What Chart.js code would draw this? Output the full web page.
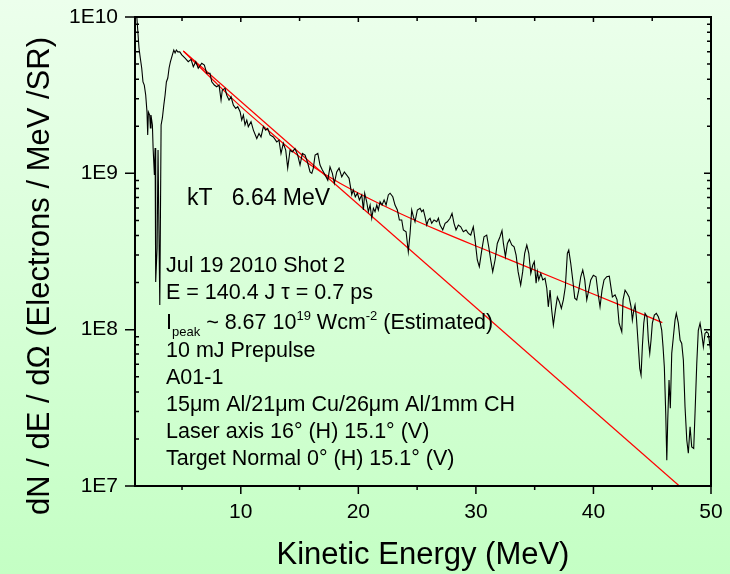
<!DOCTYPE html>
<html>
<head>
<meta charset="utf-8">
<script src="https://cdn.jsdelivr.net/npm/chart.js@4.4.1/dist/chart.umd.min.js"></script>
<style>
  body { margin: 0; background: #d8ffd8; }
  #chart { display: block; }
</style>
</head>
<body>
<canvas id="chart" width="730" height="574"></canvas>
<script>
const FONT = '"Liberation Sans", Arial, sans-serif';

// spectrum (MeV, electrons / MeV / SR)
const energy = [
  1.05, 1.34, 1.45, 1.57, 1.68, 1.79, 1.91, 2.02, 2.08, 2.14, 2.25, 2.31, 2.36, 2.48, 2.54, 2.65, 2.71, 2.76, 2.88, 2.96,
  3.11, 3.22, 3.33, 3.45, 3.56, 3.67, 3.79, 3.90, 4.01, 4.18, 4.30, 4.41, 4.52, 4.64, 4.81, 4.98,
  5.26, 5.53, 5.77, 5.96, 6.17, 6.38, 6.68, 6.90, 7.10, 7.38, 7.53, 7.75, 7.95, 8.15, 8.32, 8.43, 8.66, 8.80, 9.00, 9.17,
  9.37, 9.57, 9.74, 9.94, 10.08, 10.22, 10.36, 10.51, 10.64, 10.87, 11.07, 11.36, 11.55, 11.72, 11.92, 12.12, 12.29, 12.49,
  12.77, 13.06, 13.25, 13.42, 13.62, 13.82, 13.99, 14.19, 14.38, 14.61, 14.84, 15.04, 15.24, 15.47, 15.70, 15.89, 16.04,
  16.17, 16.32, 16.55, 16.74, 16.94, 17.17, 17.40, 17.59, 17.79, 17.96, 18.16, 18.36, 18.59, 18.81, 19.01, 19.21, 19.44,
  19.57, 19.74, 19.92, 20.09, 20.29, 20.43, 20.54, 20.71, 20.85, 21.00, 21.14, 21.28, 21.42, 21.57, 21.70, 21.85, 22.02,
  22.19, 22.36, 22.55, 22.70, 22.93, 23.12, 23.32, 23.49, 23.69, 23.83, 24.06, 24.25, 24.40, 24.54, 24.68, 24.82, 25.02,
  25.25, 25.39, 25.53, 25.67, 25.82, 25.95, 26.10, 26.24, 26.44, 26.67, 26.81, 26.95, 27.18, 27.38, 27.57, 27.80, 27.97,
  28.14, 28.31, 28.51, 28.71, 28.93, 29.16, 29.36, 29.56, 29.78, 29.93, 30.12, 30.29, 30.50, 30.69, 30.92, 31.09, 31.26,
  31.43, 31.63, 31.82, 32.05, 32.22, 32.34, 32.51, 32.68, 32.85, 33.05, 33.25, 33.42, 33.59, 33.81, 33.98, 34.15, 34.33,
  34.50, 34.67, 34.84, 34.97, 35.12, 35.23, 35.35, 35.52, 35.69, 35.88, 36.03, 36.16, 36.31, 36.45, 36.59, 36.76, 36.93,
  37.10, 37.27, 37.44, 37.61, 37.78, 37.90, 38.07, 38.24, 38.41, 38.58, 38.75, 38.92, 39.09, 39.26, 39.43, 39.60, 39.77,
  39.99, 40.22, 40.39, 40.56, 40.73, 40.90, 41.13, 41.35, 41.61, 41.84, 42.01, 42.18, 42.41, 42.52, 42.69, 42.86, 43.03,
  43.20, 43.31, 43.43, 43.54, 43.65, 43.82, 43.94, 44.05, 44.16, 44.28, 44.39, 44.56, 44.67, 44.79, 44.90, 45.01, 45.18,
  45.35, 45.52, 45.69, 45.81, 45.92, 46.03, 46.15, 46.24, 46.32, 46.43, 46.54, 46.66, 46.80, 46.94, 47.05, 47.22, 47.37,
  47.51, 47.65, 47.79, 47.94, 48.07, 48.22, 48.36, 48.53, 48.64, 48.79, 48.92, 49.07, 49.21, 49.35, 49.49, 49.63, 49.77,
  49.92, 50.0
];
const counts = [
  1.3e10, 6.33e9, 5.47e9, 4.72e9, 3.84e9, 3.67e9, 3.17e9, 2.47e9, 1.76e9, 2.47e9, 2.36e9, 1.95e9, 2.36e9, 2.04e9, 1.45e9, 9.75e8, 1.45e9, 2.02e8, 3.33e8, 1.41e9,
  1.44e8, 2.04e9, 2.26e9, 2.73e9, 3.17e9, 3.84e9, 4.07e9, 4.72e9, 5.16e9, 5.72e9, 6.15e9, 5.89e9, 6.15e9, 5.98e9, 5.98e9, 5.72e9,
  5.45e9, 5.18e9, 5.36e9, 4.81e9, 5.18e9, 4.70e9, 5.06e9, 4.93e9, 4.37e9, 4.37e9, 3.85e9, 3.67e9, 3.58e9, 3.67e9, 2.94e9, 3.41e9, 3.50e9, 3.17e9, 2.94e9, 3.09e9,
  2.73e9, 2.60e9, 2.67e9, 2.48e9, 2.19e9, 2.36e9, 2.04e9, 2.19e9, 1.99e9, 2.14e9, 1.89e9, 1.67e9, 1.80e9, 1.71e9, 1.99e9, 1.89e9, 1.94e9, 1.76e9,
  1.71e9, 1.59e9, 1.63e9, 1.34e9, 1.56e9, 1.41e9, 1.08e9, 1.41e9, 1.37e9, 1.44e9, 1.31e9, 1.13e9, 1.34e9, 1.31e9, 1.16e9, 1.02e9, 1.00e9,
  1.08e9, 1.31e9, 1.34e9, 1.13e9, 1.05e9, 9.75e8, 9.04e8, 1.10e9, 1.00e9, 8.64e8, 1.02e9, 1.08e9, 9.5e8, 1.02e9, 9.75e8, 9.29e8, 7.3e8,
  7.83e8, 7.08e8, 7.46e8, 6.76e8, 7.27e8, 5.83e8, 7.46e8, 6.58e8, 5.68e8, 6.27e8, 5.16e8, 5.98e8, 5.68e8, 6.27e8, 5.83e8, 6.58e8, 6.27e8,
  6.76e8, 6.27e8, 7.27e8, 7.46e8, 7.08e8, 6.27e8, 5.83e8, 5.03e8, 5.03e8, 4.34e8, 4.23e8, 3.15e8, 4.13e8, 5.83e8, 5.28e8, 4.90e8, 5.83e8,
  5.98e8, 5.68e8, 5.83e8, 5.28e8, 4.67e8, 5.03e8, 5.16e8, 4.79e8, 5.03e8, 4.90e8, 5.16e8, 4.67e8, 4.34e8, 4.79e8, 4.90e8, 5.16e8, 5.55e8,
  4.79e8, 4.34e8, 4.67e8, 4.55e8, 4.23e8, 4.34e8, 4.13e8, 4.03e8, 4.55e8, 3.74e8, 2.79e8, 2.53e8, 3.23e8, 3.93e8, 4.03e8, 3.39e8, 2.79e8,
  2.35e8, 2.79e8, 3.56e8, 3.93e8, 4.30e8, 3.56e8, 2.93e8, 3.56e8, 3.78e8, 3.48e8, 3.39e8, 3.00e8, 2.35e8, 1.93e8, 2.35e8, 3.08e8, 3.48e8,
  3.08e8, 2.29e8, 2.59e8, 2.72e8, 1.98e8, 2.35e8, 2.08e8, 2.29e8, 2.08e8, 2.13e8, 1.84e8, 1.40e8, 1.79e8, 1.33e8, 1.07e8, 1.33e8, 1.62e8,
  1.51e8, 1.37e8, 1.55e8, 1.88e8, 3.08e8, 3.23e8, 2.65e8, 2.08e8, 1.59e8, 1.55e8, 1.79e8, 2.18e8, 2.41e8, 2.08e8, 1.55e8, 1.79e8, 2.08e8,
  2.23e8, 2.18e8, 1.71e8, 1.40e8, 1.79e8, 2.08e8, 2.18e8, 2.20e8, 1.62e8, 1.67e8, 1.55e8, 1.10e8, 9.69e7, 1.55e8, 1.79e8, 1.71e8, 1.62e8,
  1.40e8, 1.15e8, 1.33e8, 1.44e8, 1.21e8, 7.78e7, 5.66e7, 5.12e7, 7.78e7, 1.10e8, 1.27e8, 1.21e8, 8.59e7, 7.05e7, 8.59e7, 1.10e8, 1.24e8,
  1.27e8, 1.21e8, 1.10e8, 9.9e7, 7.78e7, 5.79e7, 2.91e7, 1.46e7, 2.64e7, 4.76e7, 3.14e7, 7.05e7, 9.0e7, 1.15e8, 1.27e8, 1.10e8, 8.59e7,
  8.17e7, 6.38e7, 3.21e7, 1.97e7, 1.62e7, 2.39e7, 1.78e7, 1.74e7, 2.91e7, 6.1e7, 9.9e7, 1.10e8, 9.46e7, 7.78e7, 9.46e7, 9.69e7, 9.46e7,
  7.78e7, 7.05e7
];

// single temperature fit (kT 6.64 MeV)
const steepFitE = [5.11, 47.31];
const steepFitN = [6.06e9, 1e7];

// two temperature fit
const twoTempFitE = [5.11, 7.38, 9.94, 12.49, 14.59, 16.32, 18.44, 20.99, 23.55, 26.95, 31.21, 37.73, 42.24, 45.86];
const twoTempFitN = [6.06e9, 4.13e9, 2.7e9, 1.84e9, 1.35e9, 1.08e9, 8.64e8, 6.85e8, 5.54e8, 4.27e8, 3.15e8, 1.98e8, 1.44e8, 1.11e8];

const xTicks = [10, 20, 30, 40, 50];
const xMinorTicks = [5, 15, 25, 35, 45];
const yTicks = [1e7, 1e8, 1e9, 1e10];

const kTLabel = "kT   6.64 MeV";
const infoLines = [
  [{ text: "Jul 19 2010 Shot 2" }],
  [{ text: "E = 140.4 J \u03c4 = 0.7 ps" }],
  [{ text: "I" }, { text: "peak", sub: true }, { text: " ~ 8.67 10" }, { text: "19", sup: true }, { text: " Wcm" }, { text: "-2", sup: true }, { text: " (Estimated)" }],
  [{ text: "10 mJ Prepulse" }],
  [{ text: "A01-1" }],
  [{ text: "15\u03bcm Al/21\u03bcm Cu/26\u03bcm Al/1mm CH" }],
  [{ text: "Laser axis 16\u00b0 (H) 15.1\u00b0 (V)" }],
  [{ text: "Target Normal 0\u00b0 (H) 15.1\u00b0 (V)" }],
];
const infoBaselines = [272, 299, 329, 357, 384, 411, 438, 465];

function toPoints(xs, ys) {
  return xs.map((v, i) => ({ x: v, y: ys[i] }));
}

const backgroundPlugin = {
  id: "background",
  beforeDraw(chart) {
    const { ctx, width, height } = chart;
    const g = ctx.createLinearGradient(0, 0, 0, height);
    g.addColorStop(0, "rgb(236,255,236)");
    g.addColorStop(1, "rgb(196,255,196)");
    ctx.save();
    ctx.fillStyle = g;
    ctx.fillRect(0, 0, width, height);
    ctx.restore();
  },
};

const framePlugin = {
  id: "frame",
  afterDatasetsDraw(chart) {
    const { ctx, chartArea: a, scales } = chart;
    const x = scales.x;
    const y = scales.y;
    ctx.save();
    ctx.strokeStyle = "#000";
    ctx.lineWidth = 2;
    ctx.strokeRect(a.left, a.top, a.right - a.left, a.bottom - a.top);

    ctx.lineWidth = 1.5;
    ctx.beginPath();
    const tick = (x1, y1, x2, y2) => {
      ctx.moveTo(x1, y1);
      ctx.lineTo(x2, y2);
    };
    xTicks.forEach((v) => {
      const px = x.getPixelForValue(v);
      tick(px, a.bottom, px, a.bottom + 8);
      tick(px, a.top, px, a.top + 5);
    });
    xMinorTicks.forEach((v) => {
      const px = x.getPixelForValue(v);
      tick(px, a.bottom, px, a.bottom + 4);
      tick(px, a.top, px, a.top + 4);
    });
    yTicks.forEach((v) => {
      const py = y.getPixelForValue(v);
      tick(a.left - 10, py, a.left, py);
      tick(a.right - 7, py, a.right, py);
    });
    for (let d = 1e7; d < 1e10; d *= 10) {
      for (let m = 2; m <= 9; m++) {
        const py = y.getPixelForValue(m * d);
        tick(a.left, py, a.left + 4, py);
        tick(a.right - 4, py, a.right, py);
      }
    }
    ctx.stroke();
    ctx.restore();
  },
};

const textPlugin = {
  id: "texts",
  afterDraw(chart) {
    const { ctx, chartArea: a } = chart;
    ctx.save();
    ctx.fillStyle = "#000";
    ctx.textBaseline = "alphabetic";
    ctx.textAlign = "left";

    ctx.font = "23px " + FONT;
    ctx.fillText(kTLabel, a.left + 52, 205);

    infoLines.forEach((parts, i) => {
      let px = a.left + 31;
      const base = infoBaselines[i];
      parts.forEach((p) => {
        const small = p.sub || p.sup;
        ctx.font = (small ? 13 : 21.5) + "px " + FONT;
        const dy = p.sub ? 7 : p.sup ? -9 : 0;
        ctx.fillText(p.text, px, base + dy);
        px += ctx.measureText(p.text).width;
      });
    });

    // axis titles
    ctx.font = "31px " + FONT;
    ctx.textAlign = "center";
    ctx.fillText("Kinetic Energy (MeV)", (a.left + a.right) / 2, 564);

    ctx.translate(40, 276);
    ctx.rotate(-Math.PI / 2);
    ctx.textBaseline = "middle";
    ctx.fillText("dN / dE / d\u03a9 (Electrons / MeV /SR)", 0, 0);
    ctx.restore();
  },
};

const ctx = document.getElementById("chart");
const chart = new Chart(ctx, {
  type: "line",
  data: {
    datasets: [
      {
        data: toPoints(energy, counts),
        borderColor: "#000",
        borderWidth: 1.1,
        pointRadius: 0,
        tension: 0,
      },
      {
        data: toPoints(steepFitE, steepFitN),
        borderColor: "#ff0000",
        borderWidth: 1.2,
        pointRadius: 0,
      },
      {
        data: toPoints(twoTempFitE, twoTempFitN),
        borderColor: "#ff0000",
        borderWidth: 1.2,
        pointRadius: 0,
        cubicInterpolationMode: "monotone",
      },
    ],
  },
  options: {
    responsive: false,
    animation: false,
    layout: { padding: { top: 17, right: 19, left: 0, bottom: 0 } },
    plugins: {
      legend: { display: false },
      tooltip: { enabled: false },
    },
    scales: {
      x: {
        type: "linear",
        min: 1,
        max: 50,
        afterBuildTicks: (s) => {
          s.ticks = xTicks.map((v) => ({ value: v }));
        },
        afterFit: (s) => {
          s.height = 88;
          s.paddingLeft = 0;
          s.paddingRight = 0;
        },
        grid: { display: false, drawTicks: false },
        border: { display: false },
        ticks: {
          color: "#000",
          font: { family: FONT, size: 21 },
          padding: 14,
          maxRotation: 0,
          autoSkip: false,
        },
      },
      y: {
        type: "logarithmic",
        min: 1e7,
        max: 1e10,
        afterBuildTicks: (s) => {
          s.ticks = yTicks.map((v) => ({ value: v }));
        },
        afterFit: (s) => {
          s.width = 135;
          s.paddingTop = 0;
          s.paddingBottom = 0;
        },
        grid: { display: false, drawTicks: false },
        border: { display: false },
        ticks: {
          color: "#000",
          font: { family: FONT, size: 21 },
          padding: 17,
          autoSkip: false,
          callback: (v) => "1E" + Math.round(Math.log10(v)),
        },
      },
    },
  },
  plugins: [backgroundPlugin, framePlugin, textPlugin],
});
</script>
</body>
</html>
